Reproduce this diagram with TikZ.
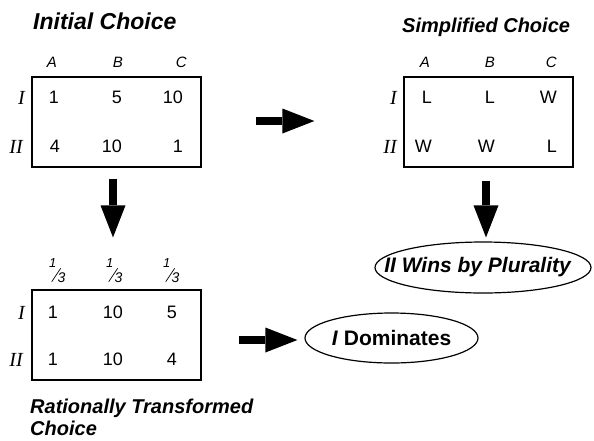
\documentclass[tikz,border=0pt]{standalone}
\usepackage{fontspec}
\setmainfont{Liberation Sans}
\newfontfamily\serifit{Liberation Serif}[ItalicFont={* Italic}]
\usetikzlibrary{arrows.meta,shapes.geometric,calc}
\tikzset{
  tablebox/.style={draw, line width=1.2pt, minimum width=169pt, minimum height=90pt, inner sep=0pt},
  oval/.style={draw, ellipse, line width=1.2pt, inner sep=0pt, font=\fontsize{21}{24}\selectfont\bfseries},
  bigarrow/.style={line width=8pt, -{Triangle[length=32pt,width=25pt,line width=0pt]}},
  title/.style={inner sep=0pt, font=\fontsize{#1}{#1}\selectfont\bfseries\itshape},
  collabel/.style={inner sep=0pt, anchor=base east, font=\fontsize{15}{15}\selectfont\itshape},
  entry/.style={inner sep=0pt, anchor=base east, font=\fontsize{18}{18}\selectfont},
  rowlabel/.style={inner sep=0pt, anchor=base east, font=\fontsize{20}{20}\selectfont\serifit\itshape},
  fracnum/.style={inner sep=0pt, font=\fontsize{13}{13}\selectfont\itshape},
  fracden/.style={inner sep=0pt, font=\fontsize{14}{14}\selectfont\itshape}
}
\begin{document}
\begin{tikzpicture}[x=1pt,y=-1pt]
\useasboundingbox (0,0) rectangle (594,440);
% titles
\node[title=23, anchor=base west] (t1) at (33,29) {Initial Choice};
\node[title=20, anchor=base west] (t2) at (402,32) {Simplified Choice};
\node[title=20, anchor=north west, align=left, font=\fontsize{20}{22}\selectfont\bfseries\itshape] (t3) at (30,399) {Rationally Transformed\\Choice};
% boxes
\node[tablebox] (box1) at (116.5,122) {};
\node[tablebox] (box2) at (488.5,122) {};
\node[tablebox] (box3) at (116.5,335) {};
% box 1
\node[collabel] (b1a) at (57,67) {A};
\node[collabel] (b1b) at (123,67) {B};
\node[collabel] (b1c) at (187,67) {C};
\node[rowlabel] (b1r1) at (25,104) {I};
\node[rowlabel] (b1r2) at (23,153) {II};
\node[entry] (b1e11) at (59,103) {1};
\node[entry] (b1e12) at (122,103) {5};
\node[entry] (b1e13) at (183,103) {10};
\node[entry] (b1e21) at (60,152) {4};
\node[entry] (b1e22) at (122,152) {10};
\node[entry] (b1e23) at (183,152) {1};
% box 2
\node[collabel] (b2a) at (430,67) {A};
\node[collabel] (b2b) at (495,67) {B};
\node[collabel] (b2c) at (557,67) {C};
\node[rowlabel] (b2r1) at (397,104) {I};
\node[rowlabel] (b2r2) at (397,153) {II};
\node[entry] (b2e11) at (432,103) {L};
\node[entry] (b2e12) at (495,103) {L};
\node[entry] (b2e13) at (557,103) {W};
\node[entry] (b2e21) at (432,152) {W};
\node[entry] (b2e22) at (495,152) {W};
\node[entry] (b2e23) at (557,152) {L};
% box 3
\foreach \dx [count=\k] in {0,57,114} {
  \node[fracnum, anchor=base east] (fn\k) at (56.5+\dx,267) {1};
  \node[fracden, anchor=base west] (fd\k) at (57.5+\dx,282) {3};
  \draw[line width=0.7pt] (51.7+\dx,281.7) -- (60.7+\dx,268.3);
}
\node[rowlabel] (b3r1) at (25,319) {I};
\node[rowlabel] (b3r2) at (23,366) {II};
\node[entry] (b3e11) at (58,318) {1};
\node[entry] (b3e12) at (123,318) {10};
\node[entry] (b3e13) at (177,318) {5};
\node[entry] (b3e21) at (58,365) {1};
\node[entry] (b3e22) at (123,365) {10};
\node[entry] (b3e23) at (177,365) {4};
% ovals
\node[oval, minimum width=216pt, minimum height=51pt] (ell1) at (483,267.5) {\makebox[0pt]{\textit{II Wins by Plurality}\hspace*{10pt}}};
\node[oval, minimum width=173pt, minimum height=50pt] (ell2) at (391.5,338) {\makebox[0pt]{\textit{I} Dominates}};
% arrows
\draw[bigarrow, shorten <=54pt, shorten >=89pt] ([yshift=1pt]box1.east) -- ([yshift=1pt]box2.west);
\draw[bigarrow, shorten <=11pt, shorten >=52pt] ([xshift=-3.5pt]box1.south) -- ([xshift=-3.5pt]box3.north);
\draw[bigarrow, shorten <=13pt, shorten >=4pt] ([xshift=-2.5pt]box2.south) -- ([xshift=-2.5pt]box2.south |- ell1.north);
\draw[bigarrow, shorten <=37pt, shorten >=7pt] ([yshift=-5pt]box3.east) -- ([yshift=-5pt]box3.east -| ell2.west);
\end{tikzpicture}
\end{document}
